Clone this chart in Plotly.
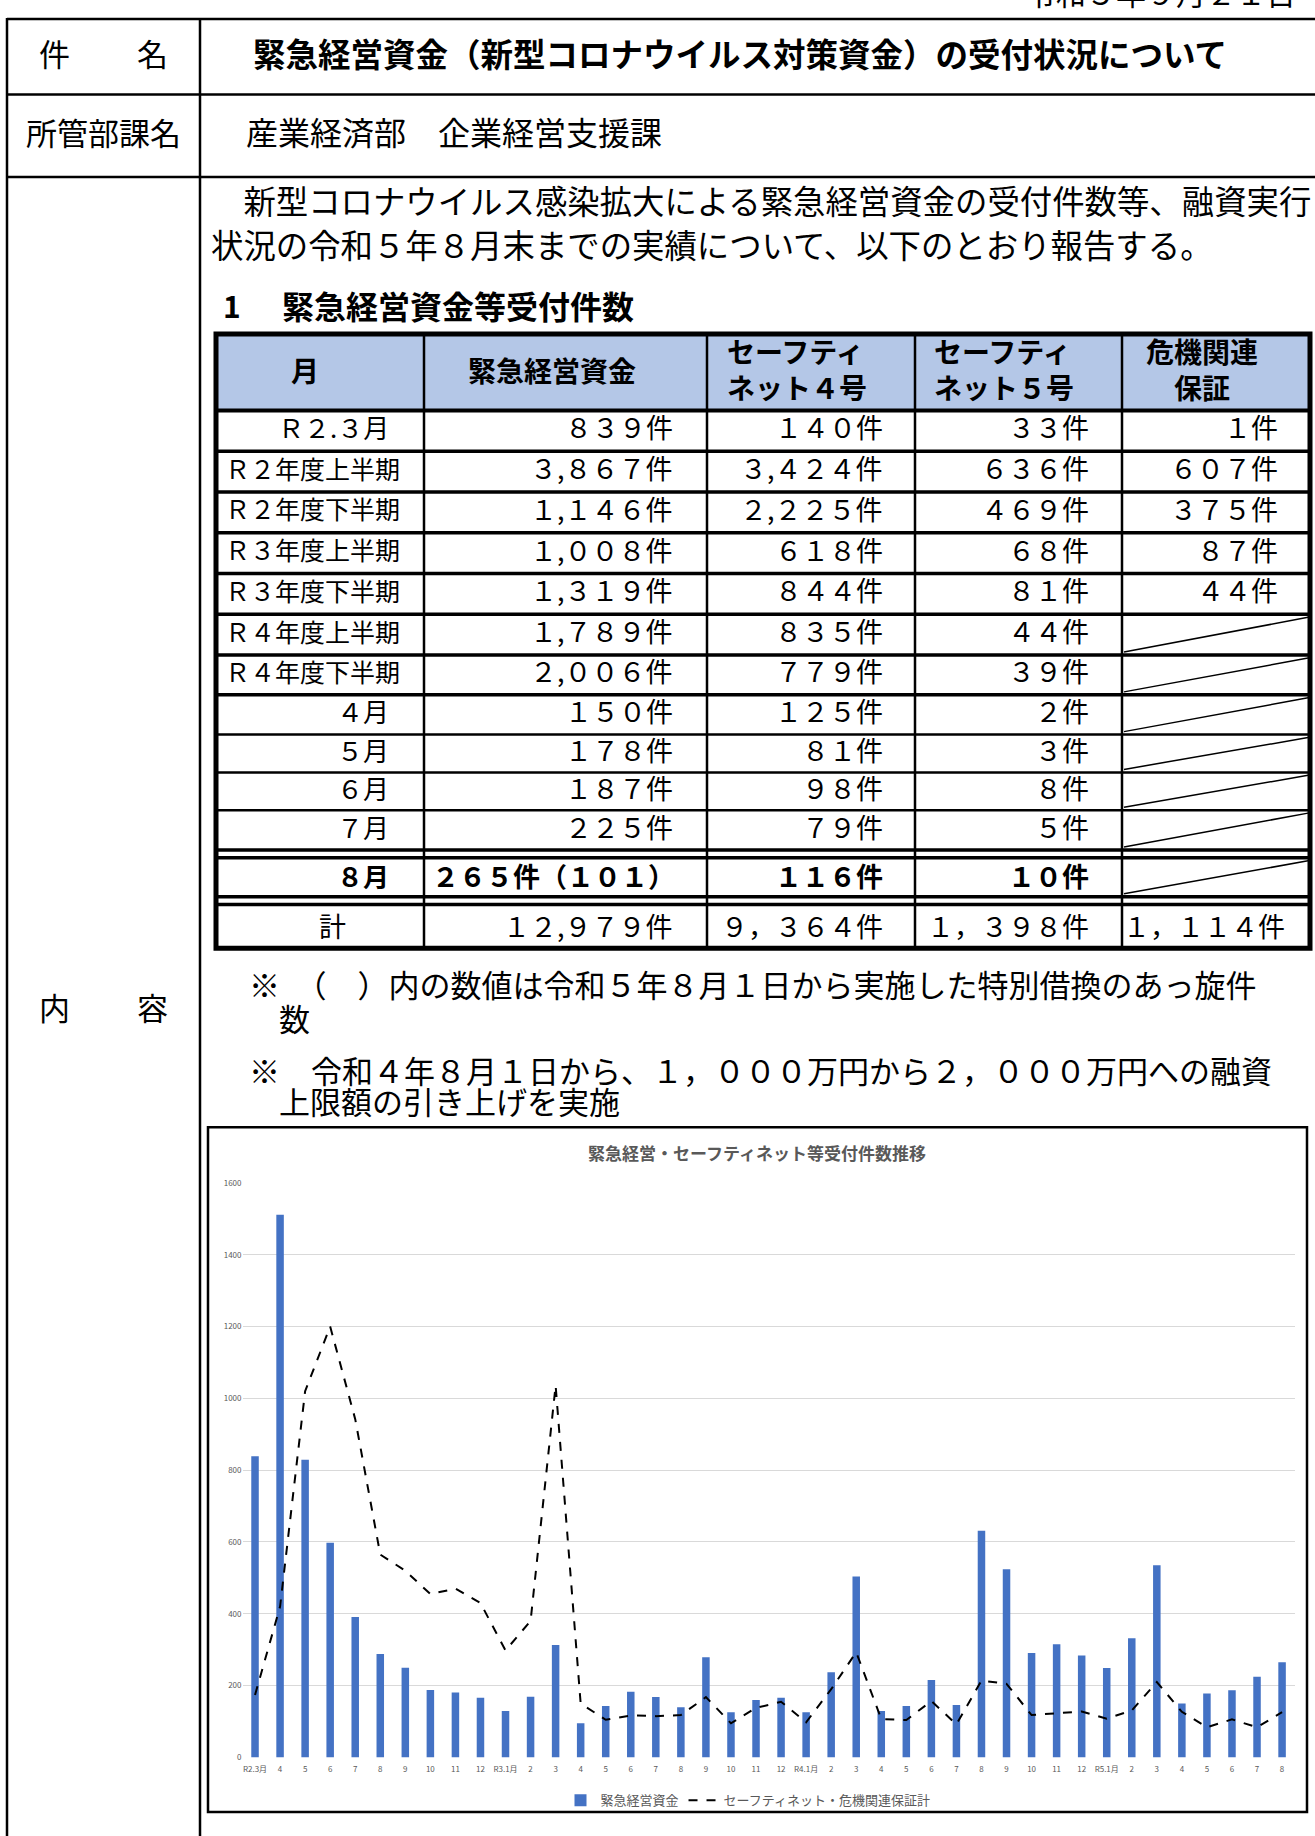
import plotly.graph_objects as go

W, H = 1315, 1836

# ---------------- chart data ----------------
months = ["R2.3月", "4", "5", "6", "7", "8", "9", "10", "11", "12",
          "R3.1月", "2", "3", "4", "5", "6", "7", "8", "9", "10", "11", "12",
          "R4.1月", "2", "3", "4", "5", "6", "7", "8", "9", "10", "11", "12",
          "R5.1月", "2", "3", "4", "5", "6", "7", "8"]
emergency = [839, 1511, 829, 598, 391, 288, 250, 188, 181, 166,
             129, 169, 313, 95, 143, 183, 168, 140, 279, 126, 160, 166,
             126, 237, 504, 129, 143, 216, 146, 631, 524, 291, 315, 284,
             249, 332, 535, 150, 178, 187, 225, 265]
safety_total = [174, 420, 1020, 1200, 942, 565, 520, 455, 470, 430,
                298, 380, 1036, 150, 105, 117, 115, 118, 168, 95, 138, 155,
                98, 190, 293, 107, 104, 157, 92, 214, 205, 118, 123, 128,
                108, 131, 210, 127, 84, 106, 84, 126]
chart_title = "緊急経営・セーフティネット等受付件数推移"
y_ticks = [0, 200, 400, 600, 800, 1000, 1200, 1400, 1600]

# ---------------- table data ----------------
tbl_header = ["月", "緊急経営資金", "セーフティ<br>ネット４号", "セーフティ<br>ネット５号", "危機関連<br>保証"]
tbl_rows = ["Ｒ２.３月", "Ｒ２年度上半期", "Ｒ２年度下半期", "Ｒ３年度上半期", "Ｒ３年度下半期",
            "Ｒ４年度上半期", "Ｒ４年度下半期", "４月", "５月", "６月", "７月", "８月"]
tbl_emergency = [839, 3867, 1146, 1008, 1319, 1789, 2006, 150, 178, 187, 225, 265]
tbl_sn4 = [140, 3424, 2225, 618, 844, 835, 779, 125, 81, 98, 79, 116]
tbl_sn5 = [33, 636, 469, 68, 81, 44, 39, 2, 3, 8, 5, 10]
tbl_crisis = [1, 607, 375, 87, 44, None, None, None, None, None, None, None]
aug_refinance = 101
tbl_totals = [12979, 9364, 1398, 1114]

notes = ["※　（　）内の数値は令和５年８月１日から実施した特別借換のあっ旋件",
         "数",
         "※　令和４年８月１日から、１，０００万円から２，０００万円への融資",
         "上限額の引き上げを実施"]

FW = str.maketrans("0123456789", "０１２３４５６７８９")


def fw(n, comma=","):
    return f"{n:,}".replace(",", "@").translate(FW).replace("@", comma) + "件"


def px(x):
    return x / W


def py(y):
    return 1 - y / H


FONT = "Noto Sans CJK JP"
TEXT_DY = -4
shapes = []
annots = []


def hline(x0, x1, y, w=2.5, color="black"):
    shapes.append(dict(type="line", xref="paper", yref="paper", x0=px(x0), x1=px(x1),
                       y0=py(y), y1=py(y), line=dict(color=color, width=w)))


def vline(x, y0, y1, w=2.5, color="black"):
    shapes.append(dict(type="line", xref="paper", yref="paper", x0=px(x), x1=px(x),
                       y0=py(y0), y1=py(y1), line=dict(color=color, width=w)))


def text(t, x, y, size=31, anchor="left", bold=False, color="black", align=None):
    annots.append(dict(text=t, xref="paper", yref="paper", x=px(x), y=py(y + TEXT_DY),
                       xanchor=anchor, yanchor="middle", showarrow=False, borderpad=0,
                       align=align or ("center" if anchor == "center" else anchor),
                       font=dict(family=FONT, size=size, color=color,
                                 weight="bold" if bold else "normal")))


# ---------------- document frame ----------------
hline(7, W + 5, 13)
hline(7, W + 5, 89)
hline(7, W + 5, 172)
vline(7, 12, H + 5)
vline(200, 12, H + 5)

text("令和５年９月２１日", 1025, -10, size=30)
text("件", 55, 51, anchor="center")
text("名", 152, 51, anchor="center")
text("緊急経営資金（新型コロナウイルス対策資金）の受付状況について", 252, 51, size=32.5, bold=True)
text("所管部課名", 103, 130, anchor="center")
text("産業経済部　企業経営支援課", 245, 130, size=32)
text("内", 55, 1011, anchor="center")
text("容", 152, 1011, anchor="center")

text("　新型コロナウイルス感染拡大による緊急経営資金の受付件数等、融資実行", 210, 199, size=32.4)
text("状況の令和５年８月末までの実績について、以下のとおり報告する。", 210, 243, size=32.4)
text("1", 222, 305, size=30, bold=True)
text("緊急経営資金等受付件数", 281, 305, size=32, bold=True)

# ---------------- table ----------------
TL, TR, TT, TB = 216, 1310, 330, 948
cols = [TL, 424, 707, 915, 1122, TR]
shapes.append(dict(type="rect", xref="paper", yref="paper", x0=px(TL), x1=px(TR),
                   y0=py(407), y1=py(TT), fillcolor="#B4C7E7", line=dict(width=0), layer="below"))

row_edges = [407, 448, 489, 530, 571, 612, 653, 693, 733, 771, 809, 849]
row_w = [4, 3.5, 3.5, 3.5, 3.5, 3.5, 3.5, 3.5, 2.5, 2.5, 2.5, 3.5]
for y, w in zip(row_edges, row_w):
    hline(TL, TR, y, w)
hline(TL, TR, 857, 3.5)
hline(TL, TR, 896, 3.5)
hline(TL, TR, 904, 3.5)
for x in cols[1:-1]:
    vline(x, TT, TB, 2.5)
shapes.append(dict(type="rect", xref="paper", yref="paper", x0=px(TL), x1=px(TR),
                   y0=py(TB), y1=py(TT), line=dict(color="black", width=5)))

# header texts
text(tbl_header[0], 305, 370, size=28, anchor="center", bold=True)
text(tbl_header[1], 552, 370, size=28, anchor="center", bold=True)
text(tbl_header[2], 726, 369, size=28, bold=True)
text(tbl_header[3], 933, 369, size=28, bold=True)
text(tbl_header[4], 1202, 369, size=28, anchor="center", bold=True)

row_tops = [407, 448, 489, 530, 571, 612, 653, 693, 733, 771, 809, 857]
row_bots = [448, 489, 530, 571, 612, 653, 693, 733, 771, 809, 849, 896]
for i, label in enumerate(tbl_rows):
    bold = (i == len(tbl_rows) - 1)
    yc = (row_tops[i] + row_bots[i]) / 2 + (2 if bold else 0)
    if "年度" in label:
        text(label, 224, yc, size=25)
    else:
        text(label, 390, yc, size=26, anchor="right", bold=bold)
    if bold:
        text(fw(tbl_emergency[i])[:-1] + "件（" + str(aug_refinance).translate(FW) + "）",
             431, yc, size=27, bold=True)
    else:
        text(fw(tbl_emergency[i]), 674, yc, size=27, anchor="right")
    text(fw(tbl_sn4[i]), 884, yc, size=27, anchor="right", bold=bold)
    text(fw(tbl_sn5[i]), 1090, yc, size=27, anchor="right", bold=bold)
    if tbl_crisis[i] is not None:
        text(fw(tbl_crisis[i]), 1279, yc, size=27, anchor="right")
    else:
        shapes.append(dict(type="line", xref="paper", yref="paper",
                           x0=px(1124), y0=py(row_bots[i] - 3), x1=px(1308), y1=py(row_tops[i] + 3),
                           line=dict(color="black", width=1.5)))

yt = 929
text("計", 332, yt, size=27, anchor="center")
text(fw(tbl_totals[0]), 674, yt, size=27, anchor="right")
text(fw(tbl_totals[1], "，"), 884, yt, size=27, anchor="right")
text(fw(tbl_totals[2], "，"), 1090, yt, size=27, anchor="right")
text(fw(tbl_totals[3], "，"), 1286, yt, size=27, anchor="right")

# notes
text(notes[0], 248, 987, size=31)
text(notes[1], 278, 1022, size=31)
text(notes[2], 248, 1074, size=31)
text(notes[3], 278, 1105, size=31)

# ---------------- chart ----------------
shapes.append(dict(type="rect", xref="paper", yref="paper", x0=px(208), x1=px(1307),
                   y0=py(1817), y1=py(1128), line=dict(color="black", width=2.5)))
annots.append(dict(text=chart_title, xref="paper", yref="paper", x=px(757), y=py(1153),
                   xanchor="center", yanchor="middle", showarrow=False,
                   font=dict(family=FONT, size=17, color="#595959", weight="bold")))

xs = list(range(len(months)))
fig = go.Figure()
fig.add_trace(go.Bar(x=xs, y=emergency, name="緊急経営資金", marker=dict(color="#4472C4", line=dict(width=0)),
                     width=0.3))
fig.add_trace(go.Scatter(x=xs, y=safety_total, mode="lines", name="セーフティネット・危機関連保証計",
                         line=dict(color="black", width=2, dash="dash")))

fig.update_layout(
    width=W, height=H, margin=dict(l=0, r=0, t=0, b=0),
    paper_bgcolor="white", plot_bgcolor="white",
    font=dict(family=FONT, color="#595959"),
    shapes=shapes, annotations=annots,
    xaxis=dict(domain=[px(242.5), px(1294.6)], range=[-0.5, len(months) - 0.5],
               tickvals=xs, ticktext=months, tickangle=0, tickfont=dict(size=8, color="#595959"),
               showgrid=False, showline=False, zeroline=False, ticks="", ticklabelstandoff=6),
    yaxis=dict(domain=[py(1762), py(1184)], range=[0, 1600], tickvals=y_ticks,
               tickfont=dict(size=8, color="#595959"), gridcolor="#D9D9D9", gridwidth=1,
               showline=False, zeroline=False, ticks=""),
    legend=dict(orientation="h", x=px(748), xanchor="center", y=py(1805), yanchor="middle",
                font=dict(size=13, color="#595959", family=FONT), itemwidth=30,
                bgcolor="rgba(0,0,0,0)"),
    showlegend=True,
)

fig.write_html("out.html")
